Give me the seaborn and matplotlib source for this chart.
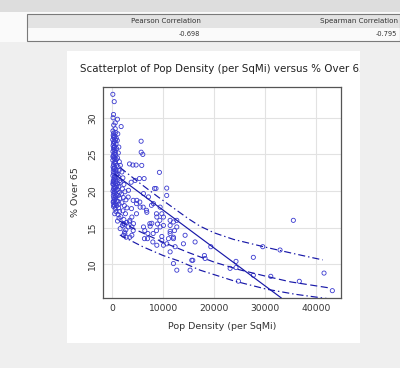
import matplotlib
matplotlib.use("Agg")
import matplotlib.pyplot as plt
import seaborn as sns
import pandas as pd
from matplotlib.patches import Rectangle
from matplotlib.transforms import Bbox, TransformedBbox

# correlation table
corr_names = ["Pearson Correlation", "Spearman Correlation"]
corr_values = ["-0.698", "-0.795"]

# scatter points (pop density per sq mi, % over 65)
density = [
    130, 400, 260, 180, 1040, 600, 300, 1760,
    150, 300, 200, 400, 120, 350, 250, 180, 420, 300, 150, 380, 220, 320, 130, 400, 260, 180,
    350, 220, 300, 150, 400, 250, 330, 200, 380, 270, 160, 350, 230, 300, 420, 200, 330, 260,
    600, 700, 550, 800, 650, 750, 500, 850, 600, 700, 550, 800, 650, 900, 500, 750, 600, 850,
    700, 550, 800, 650, 900, 500, 750, 600, 850, 700, 550, 800, 650, 900, 600, 750, 500,
    1100, 1000, 1300, 1200, 1050, 1400, 1150, 1350, 1000, 1250, 1450, 1100, 1300, 1050, 1400,
    1200, 1500, 1100, 1350, 1250, 1450, 1150, 1350, 1050,
    1600, 1900, 2100, 1700, 2300, 2000, 2500, 1800, 2200, 2700, 1900, 2400, 2900, 2100, 2600,
    1700, 2300, 2800, 2000, 1570, 2410, 2680, 2220, 2410, 2740,
    5680, 5690, 6010, 3400, 4050, 4700, 5800, 9270, 5350, 6270, 10700, 10700, 8300, 8600,
    3860, 3860, 3400, 6330, 7000, 6930, 7450, 7780, 8760, 7980, 9410, 9740, 10060, 10720,
    11040, 11370, 12020, 12680, 12350, 12020, 12220, 12680, 13980, 14310, 16270, 15290,
    15820, 18230, 11370, 10060, 8880,
    3140, 4120, 4770, 3790, 5420, 6080, 6730, 7710, 8690, 9350, 4770, 3470, 2160, 3140, 4120,
    2490, 3470, 7390, 8040, 6400, 8690,
    3730, 4510, 3200, 6140, 7120, 4840, 8100, 9410, 5490, 6800, 3860, 8760, 11370, 4180, 6140,
    10060, 9740, 12020, 11370, 12680, 11370, 12020, 9740, 15620, 19350, 18100,
    35550, 29550, 32940, 27700, 24300, 23140, 24300, 41570, 27700, 31120, 36720, 24760, 43200,
    250, 450, 350, 550, 150, 650, 300, 500, 200, 700, 400, 600, 250, 450, 350, 800, 150, 550,
]
pct_over_65 = [
    33.2, 32.2, 30.45, 30.0, 29.8, 29.3, 29.0, 28.8,
    28.2, 27.9, 27.6, 27.3, 27.0, 26.8, 26.5, 26.2, 26.0, 25.7, 25.4, 25.1, 24.8, 24.5, 24.2, 23.9,
    23.6, 23.3, 23.0, 22.7, 22.4, 22.1, 21.8, 21.5, 21.2, 20.9, 20.6, 20.3, 20.0, 19.7, 19.4,
    19.1, 18.8, 18.5, 18.2, 17.9,
    28.5, 28.0, 27.5, 27.2, 26.9, 26.4, 26.1, 25.8, 25.3, 25.0, 24.6, 24.3, 23.8, 23.5, 23.2,
    22.9, 22.5, 22.2, 21.9, 21.6, 21.3, 21.0, 20.7, 20.4, 20.1, 19.8, 19.5, 19.2, 18.9, 18.6,
    18.3, 18.0, 17.6, 17.2, 16.9,
    27.8, 26.9, 26.0, 25.2, 24.5, 24.0, 23.3, 22.8, 22.3, 21.9, 21.4, 21.0, 20.6, 20.2, 19.8,
    19.4, 19.0, 18.6, 18.2, 17.7, 17.2, 16.8, 16.3, 15.9,
    23.5, 22.6, 21.8, 21.2, 20.9, 20.3, 19.9, 19.6, 19.1, 18.8, 18.4, 18.0, 17.7, 17.3, 16.9,
    16.5, 16.1, 15.7, 15.3, 14.87, 14.4, 14.7, 13.96, 15.45, 13.7,
    26.8, 25.3, 25.0, 23.7, 23.55, 23.55, 23.5, 22.55, 21.7, 21.7, 20.4, 19.4, 20.35, 20.35,
    13.96, 15.1, 15.8, 13.5, 14.2, 13.5, 15.2, 15.6, 12.6, 13.05, 15.1, 13.8, 12.6, 12.8,
    13.5, 11.7, 10.1, 9.2, 12.4, 13.7, 14.6, 15.1, 12.8, 13.96, 13.05, 9.2,
    10.55, 10.8, 14.2, 15.3, 15.5,
    19.18, 18.73, 18.28, 17.6, 18.5, 17.8, 17.37, 18.05, 16.9, 16.0, 16.9, 16.0, 15.55, 15.1, 14.6,
    14.2, 13.7, 15.55, 14.2, 14.6, 14.6,
    21.2, 21.45, 20.1, 19.65, 19.2, 18.73, 18.28, 17.8, 17.8, 17.1, 16.45, 16.45, 16.0, 15.55, 15.1,
    16.45, 16.9, 15.77, 15.3, 16.0, 14.5, 13.5, 13.27, 10.55, 12.4, 11.2,
    16.0, 12.4, 11.95, 10.95, 10.4, 9.45, 9.55, 8.8, 8.5, 8.36, 7.68, 7.7, 6.4,
    27.4, 26.7, 25.9, 25.5, 24.7, 24.0, 23.1, 22.0, 21.3, 20.5, 19.9, 19.3, 18.6, 18.0, 26.0, 22.6,
    21.0, 24.4,
]

# fitted lines
lin_x = [500, 33200]
lin_y = [22.3, 5.4]
fit_x = [1500, 5000, 10000, 15000, 20000, 25000, 30000, 35000, 42400]
fit_y = [15.9, 14.6, 13.0, 11.6, 10.3, 9.25, 8.4, 7.6, 6.8]
upper_x = [1570, 5000, 9000, 12000, 15000, 17250, 20000, 23800, 30300, 36000, 41300]
upper_y = [23.2, 21.3, 19.2, 17.7, 16.2, 15.2, 14.3, 13.4, 12.3, 11.4, 10.6]
lower_x = [1500, 6000, 10000, 13300, 17250, 23800, 30300, 36000, 42400]
lower_y = [14.0, 12.4, 11.2, 10.4, 9.2, 7.75, 6.6, 5.9, 5.3]

sns.set_style("white")
plt.rcParams['font.family'] = ['DejaVu Sans']

W, H = 400, 368
fig = plt.figure(figsize=(4.0, 3.68), dpi=100)
fig.patch.set_facecolor("#efefef")

def px_rect(x0, y0, x1, y1, **kw):
    r = Rectangle((x0 / W, 1 - y1 / H), (x1 - x0) / W, (y1 - y0) / H,
                  transform=fig.transFigure, zorder=-5, **kw)
    fig.patches.append(r)
    return r

# top band and table area
px_rect(0, 0, 400, 12, facecolor="#dddddd", edgecolor="none")
px_rect(0, 12, 400, 42, facecolor="#fafafa", edgecolor="none")
px_rect(27, 14, 400, 27.5, facecolor="#e3e3e3", edgecolor="none")
px_rect(202.5, 14, 203.5, 27.5, facecolor="white", edgecolor="none")
px_rect(27, 14, 399.5, 40.5, facecolor="none", edgecolor="#7a7a7a", linewidth=0.8)
for i, (name, val) in enumerate(zip(corr_names, corr_values)):
    xr = [200.5, 397.5][i]
    fig.text(xr / W, 1 - 21 / H, name, ha="right", va="center", fontsize=5.1, color="#333333")
    fig.text(xr / W, 1 - 34 / H, val, ha="right", va="center", fontsize=4.8, color="#333333")

# white panel
px_rect(67, 51, 360, 343, facecolor="white", edgecolor="none")
t = fig.text(80 / W, 1 - 69 / H, "Scatterplot of Pop Density (per SqMi) versus % Over 65",
             ha="left", va="center", fontsize=7.4, color="#222222")
t.set_clip_box(TransformedBbox(Bbox([[67 / W, 1 - 343 / H], [360 / W, 1 - 51 / H]]),
                               fig.transFigure))
t.set_clip_on(True)

ax = fig.add_axes([103 / W, 1 - 298 / H, 238 / W, 211 / H])
ax.set_facecolor("white")

df = pd.DataFrame({"density": density, "pct": pct_over_65})
sns.scatterplot(data=df, x="density", y="pct", ax=ax, marker="o", s=9,
                facecolor="none", edgecolor="#3a3ad0", linewidth=0.6, zorder=3)

line_col = "#1818a8"
sns.lineplot(x=lin_x, y=lin_y, ax=ax, color=line_col, linewidth=0.85, zorder=4)
sns.lineplot(x=fit_x, y=fit_y, ax=ax, color=line_col, linewidth=0.85, sort=False,
             estimator=None, linestyle=(0, (6, 3)), zorder=4)
sns.lineplot(x=upper_x, y=upper_y, ax=ax, color=line_col, linewidth=0.85, sort=False,
             estimator=None, linestyle=(0, (6, 2.5, 1.2, 2.5)), zorder=4)
sns.lineplot(x=lower_x, y=lower_y, ax=ax, color=line_col, linewidth=0.85, sort=False,
             estimator=None, linestyle=(0, (6, 2.5, 1.2, 2.5)), zorder=4)

ax.set_xlim(-1800, 44900)
ax.set_ylim(5.4, 34.2)
ax.set_xticks([0, 10000, 20000, 30000, 40000])
ax.set_xticklabels(["0", "10000", "20000", "30000", "40000"])
ax.set_yticks([10, 15, 20, 25, 30])
ax.grid(True, color="#e2e2e2", linewidth=0.8)
ax.set_axisbelow(True)
ax.tick_params(length=0, labelsize=6.6, colors="#333333", pad=4)
ax.tick_params(axis="y", labelrotation=90)
for lab in ax.get_yticklabels():
    lab.set_va("center")
for sp in ax.spines.values():
    sp.set_color("#555555")
    sp.set_linewidth(0.9)
ax.set_xlabel("Pop Density (per SqMi)", fontsize=6.8, color="#333333", labelpad=7)
ax.set_ylabel("% Over 65", fontsize=6.8, color="#333333", labelpad=6)

fig.savefig("out.png", dpi=100, facecolor=fig.get_facecolor())
